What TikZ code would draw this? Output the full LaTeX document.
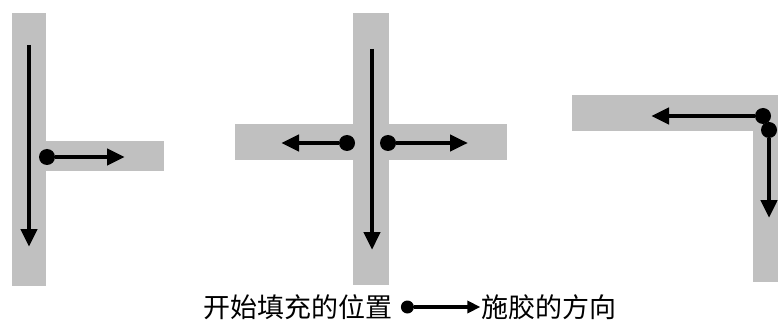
\documentclass[tikz,border=0pt]{standalone}
\usepackage{fontspec}
\newfontfamily\cjkfont{Noto Sans CJK SC}
\usetikzlibrary{arrows.meta,positioning}
\definecolor{BarGray}{HTML}{C0C0C0}

\begin{document}
\begin{tikzpicture}[x=1pt,y=-1pt,
  bar/.style={fill=BarGray},
  flow/.style={line width=4.5pt,-{Triangle[length=18pt,width=16pt]}},
  startdot/.style={circle,fill=black,inner sep=0pt,minimum size=16pt},
  legdot/.style={circle,fill=black,inner sep=0pt,minimum size=13pt},
  legtext/.style={inner sep=0pt,font=\cjkfont\fontsize{27}{30}\selectfont}]
\useasboundingbox (0,0) rectangle (778,323);

% T joint
\fill[bar] (12,13) rectangle (46,286);
\fill[bar] (46,141) rectangle (164,171);
\coordinate (tTop) at (29,45);
\coordinate (tBottom) at (29,247);
\draw[flow] (tTop) -- (tBottom);
\node[startdot] (tDot) at (47,157) {};
\coordinate (tRight) at (125,157);
\draw[flow] (tDot) -- (tRight);

% cross joint
\fill[bar] (353,13) rectangle (389,285);
\fill[bar] (235,124) rectangle (507,160);
\coordinate (xTop) at (372,49);
\coordinate (xBottom) at (372,250);
\draw[flow] (xTop) -- (xBottom);
\node[startdot] (xDotL) at (347,143) {};
\node[startdot] (xDotR) at (388,143) {};
\coordinate (xLeft) at (281,143);
\coordinate (xRight) at (468,143);
\draw[flow] (xDotL) -- (xLeft);
\draw[flow] (xDotR) -- (xRight);

% corner joint
\fill[bar] (572,95) rectangle (778,131);
\fill[bar] (753,131) rectangle (778,282);
\node[startdot] (cDotH) at (763,116) {};
\node[startdot] (cDotV) at (769,130) {};
\coordinate (cLeft) at (651,116);
\coordinate (cDown) at (769,218);
\draw[flow] (cDotH) -- (cLeft);
\draw[flow] (cDotV) -- (cDown);

% legend
\node[legtext] (legStart) at (298,307) {开始填充的位置};
\node[legdot, right=8pt of legStart] (legDot) {};
\coordinate[right=73pt of legDot.center] (legTip);
\draw[line width=3.5pt,-{Triangle[length=13pt,width=12pt]}] (legDot) -- (legTip);
\node[legtext, right=1pt of legTip] (legDir) {施胶的方向};
\end{tikzpicture}
\end{document}
